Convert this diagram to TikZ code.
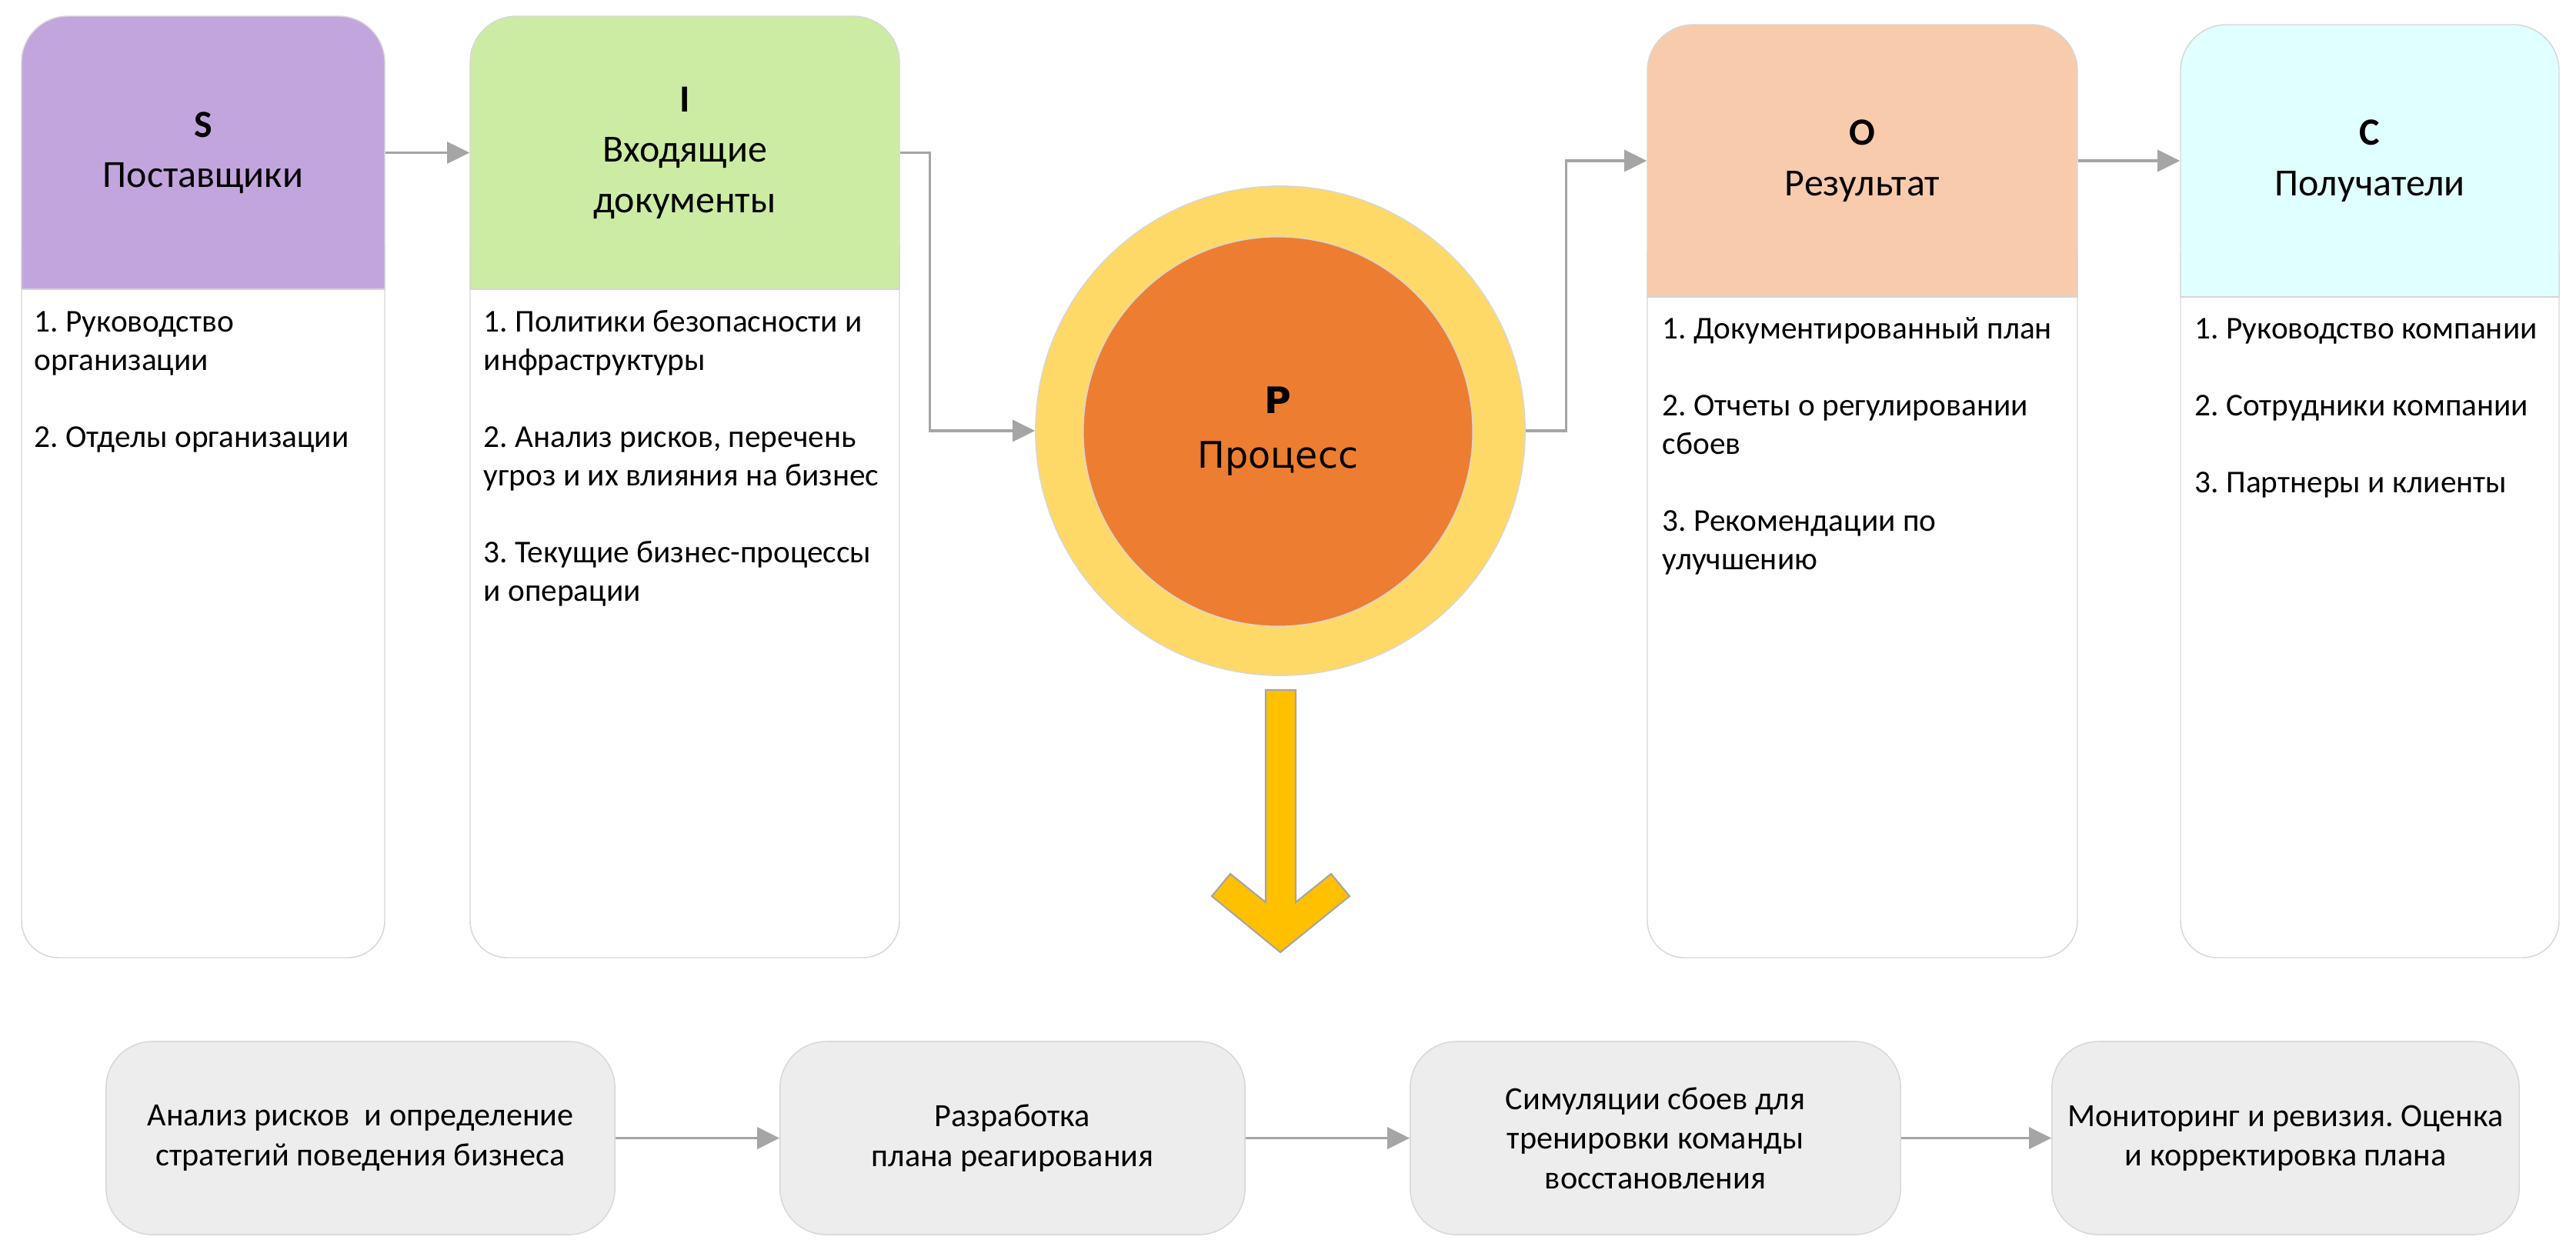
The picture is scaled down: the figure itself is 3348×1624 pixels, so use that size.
\documentclass[tikz,border=0pt]{standalone}
\usepackage{fontspec}
\setmainfont{Carlito}
\newfontfamily\procfont{DejaVu Sans}
\usetikzlibrary{arrows.meta}
\frenchspacing
\definecolor{sipocS}{RGB}{195,165,222}
\definecolor{sipocI}{RGB}{204,236,164}
\definecolor{sipocO}{RGB}{248,203,173}
\definecolor{sipocC}{RGB}{224,255,255}
\definecolor{ringyellow}{RGB}{254,217,104}
\definecolor{coreorange}{RGB}{237,125,49}
\definecolor{arrowyellow}{RGB}{255,192,0}
\definecolor{rimgray}{RGB}{214,214,214}
\definecolor{conngray}{RGB}{165,165,165}
\definecolor{stepgray}{RGB}{237,237,237}
\tikzset{
	rim/.style={draw=rimgray, line width=0.4pt},
	conn/.style={draw=conngray, line width=0.9pt, -{Triangle[length=0.29cm,width=0.28cm]}},
	hdr/.style={inner sep=0pt, align=center, font=\fontsize{14.2}{18.6}\selectfont},
	body/.style={anchor=north west, inner sep=0pt, align=left, font=\fontsize{11.75}{14.2}\selectfont},
	stepbox/.style={rim, fill=stepgray, rounded corners=0.6cm, minimum height=2.51cm, align=center, font=\fontsize{12}{14.6}\selectfont}
}
\newcommand{\sipoccol}[5]% left, top, right, header bottom, colour
{\filldraw[fill=white, rim, rounded corners=0.48cm] (#1,#4-100) rectangle (#3,1245);
	\begin{scope}
		\clip (#1-5,#2-5) rectangle (#3+5,#4);
		\filldraw[fill=#5, rim, rounded corners=0.6cm] (#1,#2) rectangle (#3,#4+100);
	\end{scope}
	\draw[rim] (#1,#4) -- (#3,#4);
}

\begin{document}
\begin{tikzpicture}[x=0.01cm, y=-0.01cm]
		\useasboundingbox (0,0) rectangle (3348,1624);
		%Columnas S, I, O, C
		\sipoccol{28}{21}{500}{376}{sipocS}
		\sipoccol{611}{21}{1169}{376}{sipocI}
		\sipoccol{2141}{32}{2700}{386}{sipocO}
		\sipoccol{2834}{32}{3326}{386}{sipocC}
		\node[hdr, minimum width=4.72cm, minimum height=3.55cm] (S) at (264,198.5) {\textbf{S}\\Поставщики};
		\node[hdr, minimum width=5.58cm, minimum height=3.55cm] (I) at (890,198.5) {\textbf{I}\\Входящие\\документы};
		\node[hdr, minimum width=5.59cm, minimum height=3.54cm] (O) at (2420.5,209) {\textbf{O}\\Результат};
		\node[hdr, minimum width=4.92cm, minimum height=3.54cm] (C) at (3080,209) {\textbf{C}\\Получатели};
		\node[body] (Sbody) at (44,396) {\strut 1. Руководство\\организации\\[14.2pt]2. Отделы организации};
		\node[body] (Ibody) at (628,396) {\strut 1. Политики безопасности и\\инфраструктуры\\[14.2pt]2. Анализ рисков, перечень\\угроз и их влияния на бизнес\\[14.2pt]3. Текущие бизнес-процессы\\и операции};
		\node[body] (Obody) at (2160,405) {\strut 1. Документированный план\\[14.2pt]2. Отчеты о регулировании\\сбоев\\[14.2pt]3. Рекомендации по\\улучшению};
		\node[body] (Cbody) at (2852,405) {\strut 1. Руководство компании\\[14.2pt]2. Сотрудники компании\\[14.2pt]3. Партнеры и клиенты};
		%Proceso
		\node[circle, fill=ringyellow, draw=rimgray, minimum size=6.36cm, inner sep=0pt] (P) at (1664,560) {};
		\node[circle, fill=coreorange, draw=rimgray, minimum size=5.06cm, inner sep=0pt, align=center, font=\procfont\fontsize{13.5}{20.2}\selectfont] (Pcore) at (1661,561) {\textbf{P}\\Процесс};
		\filldraw[fill=arrowyellow, draw=conngray, line width=0.6pt] (1645,897) -- (1645,1173) -- (1599,1136) -- (1575,1165) -- (1664,1238) -- (1754,1165) -- (1730,1136) -- (1684,1173) -- (1684,897) -- cycle;
		\draw[conn] (S) -- (I);
		\draw[conn] (I.east) -- ++(39,0) |- (P.west);
		\draw[conn] (P.east) -- ++(53,0) |- (O.west);
		\draw[conn] (O) -- (C);
		%Etapas
		\node[stepbox, minimum width=6.61cm] (step1) at (468.5,1479.5) {Анализ рисков~ и определение\\стратегий поведения бизнеса};
		\node[stepbox, minimum width=6.04cm] (step2) at (1316,1479.5) {Разработка\\плана реагирования};
		\node[stepbox, minimum width=6.37cm] (step3) at (2151.5,1479.5) {Симуляции сбоев для\\тренировки команды\\восстановления};
		\node[stepbox, minimum width=6.07cm] (step4) at (2970.5,1479.5) {Мониторинг и ревизия. Оценка\\и корректировка плана};
		\draw[conn] (step1) -- (step2);
		\draw[conn] (step2) -- (step3);
		\draw[conn] (step3) -- (step4);
	\end{tikzpicture}
\end{document}
